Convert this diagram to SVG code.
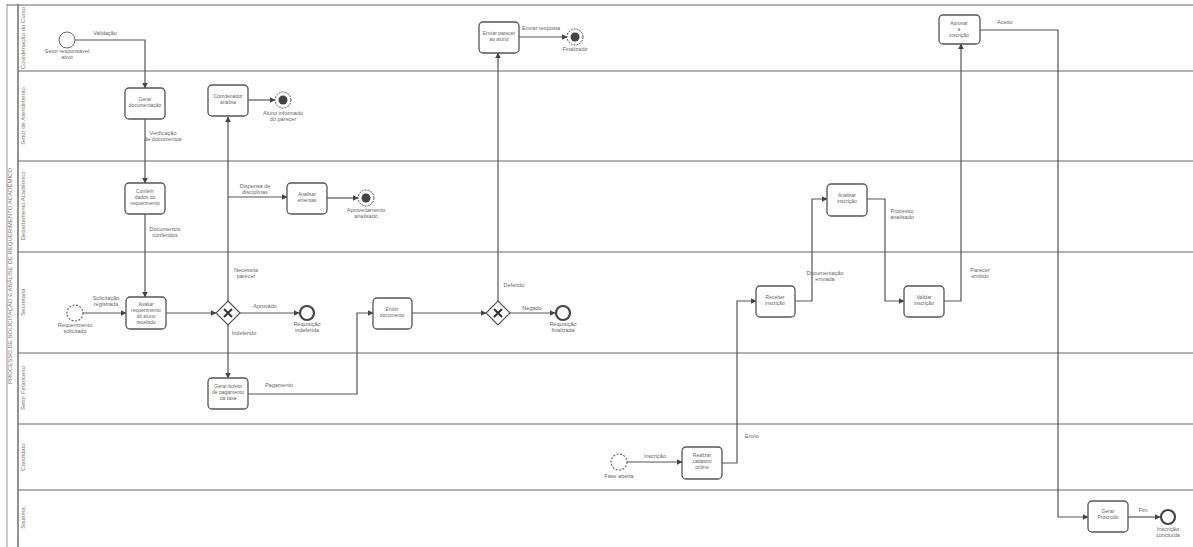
<svg xmlns="http://www.w3.org/2000/svg" width="1193" height="547" viewBox="0 0 1193 547">
<defs>
<marker id="arr" viewBox="0 0 10 10" refX="9" refY="5" markerWidth="5" markerHeight="5" orient="auto"><path d="M0,0 L10,5 L0,10 z" fill="#444"/></marker>
<style>
.lane{stroke:#666;stroke-width:1.2;fill:none}
.task{fill:#fff;stroke:#555;stroke-width:1.3}
.t{font-family:"Liberation Sans",Arial,sans-serif;font-size:5.5px;fill:#666;text-anchor:middle}
.tt{font-family:"Liberation Sans",Arial,sans-serif;font-size:5px;fill:#666;text-anchor:middle}
.lb{font-family:"Liberation Sans",Arial,sans-serif;font-size:6px;fill:#777;text-anchor:middle}
.flow{fill:none;stroke:#555;stroke-width:1.2;marker-end:url(#arr)}
.end{fill:#fff;stroke:#444;stroke-width:2.2}
.endm{fill:#fff;stroke:#555;stroke-width:1;stroke-dasharray:2 1}
.start{fill:#fff;stroke:#666;stroke-width:1}
.startd{fill:#fff;stroke:#666;stroke-width:1.2;stroke-dasharray:2 1.5}
.gw{fill:#fff;stroke:#555;stroke-width:1.2}
</style>
</defs>
<rect width="1193" height="547" fill="#fff"/>
<g id="pool">
<line x1="7" y1="4" x2="7" y2="547" stroke="#999" stroke-width="1"/>
<line x1="18" y1="4" x2="18" y2="547" stroke="#666" stroke-width="1.4"/>
<line x1="7" y1="5" x2="1193" y2="5" class="lane"/>
<line x1="18" y1="71" x2="1193" y2="71" class="lane" stroke-width="1.6"/>
<line x1="18" y1="161" x2="1193" y2="161" class="lane"/>
<line x1="18" y1="252" x2="1193" y2="252" class="lane"/>
<line x1="18" y1="353" x2="1193" y2="353" class="lane"/>
<line x1="18" y1="424" x2="1193" y2="424" class="lane"/>
<line x1="18" y1="490" x2="1193" y2="490" class="lane" stroke-width="1.6"/>
<text class="lb" transform="translate(12,276) rotate(-90)">PROCESSO DE SOLICITAÇÃO E ANÁLISE DE REQUERIMENTO ACADÊMICO</text>
<text class="lb" transform="translate(25,38) rotate(-90)">Coordenação do Curso</text>
<text class="lb" transform="translate(25,116) rotate(-90)">Setor de Atendimento</text>
<text class="lb" transform="translate(25,206) rotate(-90)">Departamento Acadêmico</text>
<text class="lb" transform="translate(25,302) rotate(-90)">Secretaria</text>
<text class="lb" transform="translate(25,388) rotate(-90)">Setor Financeiro</text>
<text class="lb" transform="translate(25,457) rotate(-90)">Candidato</text>
<text class="lb" transform="translate(25,518) rotate(-90)">Sistema</text>
</g>
<g id="connectors">
<path class="flow" d="M75,40 H145 V88"/>
<text class="t" x="105" y="35">Validação</text>
<path class="flow" d="M145,119 V183"/>
<text class="t" x="163" y="135">Verificação</text><text class="t" x="163" y="141">de documentos</text>
<path class="flow" d="M145,214 V297"/>
<text class="t" x="165" y="231">Documentos</text><text class="t" x="165" y="237">conferidos</text>
<path class="flow" d="M83,313 H126"/>
<text class="t" x="106" y="300">Solicitação</text><text class="t" x="106" y="306">registrada</text>
<path class="flow" d="M166,313 H216"/>
<path class="flow" d="M228,301 V117"/>
<text class="t" x="246" y="272">Necessita</text><text class="t" x="246" y="278">parecer</text>
<path class="flow" d="M228,197 H287"/>
<text class="t" x="255" y="188">Dispensa de</text><text class="t" x="255" y="194">disciplinas</text>
<path class="flow" d="M248,100 H275"/>
<path class="flow" d="M327,198 H358"/>
<path class="flow" d="M240,313 H299"/>
<text class="t" x="265" y="308">Aprovado</text>
<path class="flow" d="M228,325 V378"/>
<text class="t" x="244" y="335">Indeferido</text>
<path class="flow" d="M248,394 H357 V313 H373"/>
<text class="t" x="279" y="387">Pagamento</text>
<path class="flow" d="M412,313 H486"/>
<path class="flow" d="M498,301 V53"/>
<text class="t" x="514" y="287">Deferido</text>
<path class="flow" d="M510,313 H555"/>
<text class="t" x="532" y="310">Negado</text>
<path class="flow" d="M519,37 H567"/>
<text class="t" x="541" y="30">Enviar resposta</text>
<path class="flow" d="M627,462 H682"/>
<text class="t" x="655" y="458">Inscrição</text>
<path class="flow" d="M722,463 H737 V301 H756"/>
<text class="t" x="752" y="438">Envio</text>
<path class="flow" d="M795,301 H812 V199 H827"/>
<text class="t" x="825" y="275">Documentação</text><text class="t" x="825" y="281">enviada</text>
<path class="flow" d="M867,199 H885 V301 H904"/>
<text class="t" x="902" y="213">Processo</text><text class="t" x="902" y="219">analisado</text>
<path class="flow" d="M944,301 H961 V44"/>
<text class="t" x="980" y="272">Parecer</text><text class="t" x="980" y="278">emitido</text>
<path class="flow" d="M980,30 H1058 V517 H1088"/>
<text class="t" x="1005" y="24">Aceito</text>
<path class="flow" d="M1128,517 H1160"/>
<text class="t" x="1143" y="512">Fim</text>
</g>
<g id="start1"><circle class="start" cx="67" cy="40" r="8"/><text class="t" x="67" y="53">Setor responsável</text><text class="t" x="67" y="59">ativo</text></g>
<g id="start2"><circle class="startd" cx="75" cy="313" r="8"/><text class="t" x="75" y="327">Requerimento</text><text class="t" x="75" y="333">solicitado</text></g>
<g id="start3"><circle class="startd" cx="619" cy="462" r="8"/><text class="t" x="619" y="478">Fase aberta</text></g>
<g id="task1"><rect class="task" x="125" y="88" width="40" height="31" rx="4"/><text class="tt" x="145" y="101">Gerar</text><text class="tt" x="145" y="107">documentação</text></g>
<g id="task2"><rect class="task" x="208" y="85" width="40" height="31" rx="4"/><text class="tt" x="228" y="98">Coordenador</text><text class="tt" x="228" y="104">analisa</text></g>
<g id="task3"><rect class="task" x="125" y="183" width="40" height="31" rx="4"/><text class="tt" x="145" y="193">Conferir</text><text class="tt" x="145" y="199">dados do</text><text class="tt" x="145" y="205">requerimento</text></g>
<g id="task4"><rect class="task" x="287" y="183" width="40" height="31" rx="4"/><text class="tt" x="307" y="196">Analisar</text><text class="tt" x="307" y="202">ementas</text></g>
<g id="task5"><rect class="task" x="126" y="297" width="40" height="32" rx="4"/><text class="tt" x="146" y="306">Avaliar</text><text class="tt" x="146" y="312">requerimento</text><text class="tt" x="146" y="318">do aluno</text><text class="tt" x="146" y="324">recebido</text></g>
<g id="task6"><rect class="task" x="208" y="378" width="40" height="31" rx="4"/><text class="tt" x="228" y="388">Gerar boleto</text><text class="tt" x="228" y="394">de pagamento</text><text class="tt" x="228" y="400">da taxa</text></g>
<g id="task7"><rect class="task" x="373" y="298" width="39" height="31" rx="4"/><text class="tt" x="392" y="311">Emitir</text><text class="tt" x="392" y="317">documento</text></g>
<g id="task8"><rect class="task" x="479" y="22" width="40" height="31" rx="4"/><text class="tt" x="499" y="35">Enviar parecer</text><text class="tt" x="499" y="41">ao aluno</text></g>
<g id="task9"><rect class="task" x="682" y="447" width="40" height="32" rx="4"/><text class="tt" x="702" y="457">Realizar</text><text class="tt" x="702" y="463">cadastro</text><text class="tt" x="702" y="469">online</text></g>
<g id="task10"><rect class="task" x="756" y="286" width="39" height="31" rx="4"/><text class="tt" x="775" y="299">Receber</text><text class="tt" x="775" y="305">inscrição</text></g>
<g id="task11"><rect class="task" x="827" y="184" width="40" height="32" rx="4"/><text class="tt" x="847" y="197">Analisar</text><text class="tt" x="847" y="203">inscrição</text></g>
<g id="task12"><rect class="task" x="904" y="286" width="40" height="31" rx="4"/><text class="tt" x="924" y="299">Validar</text><text class="tt" x="924" y="305">inscrição</text></g>
<g id="task13"><rect class="task" x="939" y="15" width="41" height="29" rx="4"/><text class="tt" x="959" y="25">Aprovar</text><text class="tt" x="959" y="31">a</text><text class="tt" x="959" y="37">inscrição</text></g>
<g id="task14"><rect class="task" x="1088" y="501" width="40" height="31" rx="4"/><text class="tt" x="1108" y="513">Gerar</text><text class="tt" x="1108" y="519">Protocolo</text></g>
<g id="gw1"><path class="gw" d="M228,301 L240,313 L228,325 L216,313 Z"/><path d="M224,309 L232,317 M232,309 L224,317" stroke="#333" stroke-width="2"/></g>
<g id="gw2"><path class="gw" d="M498,301 L510,313 L498,325 L486,313 Z"/><path d="M494,309 L502,317 M502,309 L494,317" stroke="#333" stroke-width="2"/></g>
<g id="end1"><circle class="endm" cx="575" cy="37" r="8"/><circle cx="575" cy="37" r="4.5" fill="#444"/><text class="t" x="575" y="51">Finalizado</text></g>
<g id="end2"><circle class="endm" cx="283" cy="100" r="8"/><circle cx="283" cy="100" r="4.5" fill="#444"/><text class="t" x="283" y="115">Aluno informado</text><text class="t" x="283" y="121">do parecer</text></g>
<g id="end3"><circle class="endm" cx="366" cy="198" r="8"/><circle cx="366" cy="198" r="4.5" fill="#444"/><text class="t" x="366" y="212">Aproveitamento</text><text class="t" x="366" y="218">analisado</text></g>
<g id="end4"><circle class="end" cx="307" cy="313" r="7"/><text class="t" x="307" y="326">Requisição</text><text class="t" x="307" y="332">indeferida</text></g>
<g id="end5"><circle class="end" cx="563" cy="313" r="7"/><text class="t" x="563" y="326">Requisição</text><text class="t" x="563" y="332">finalizada</text></g>
<g id="end6"><circle class="end" cx="1168" cy="517" r="7"/><text class="t" x="1168" y="531">Inscrição</text><text class="t" x="1168" y="537">concluída</text></g>
</svg>
